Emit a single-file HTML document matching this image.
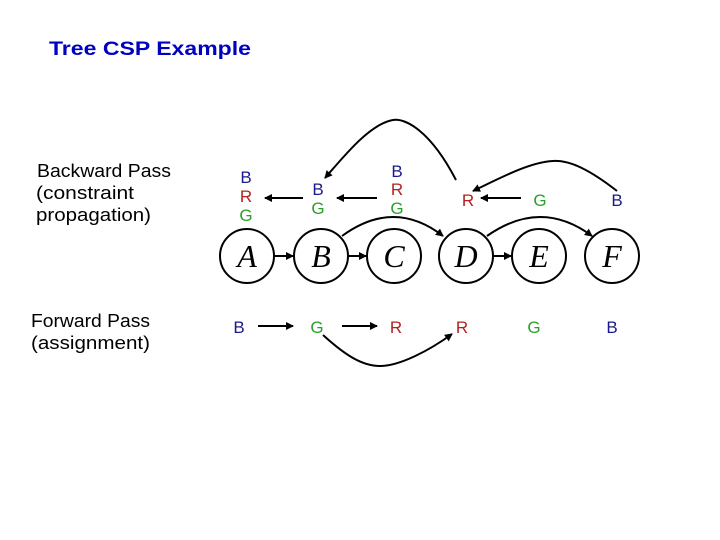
<!DOCTYPE html>
<html><head><meta charset="utf-8"><style>
html,body{margin:0;padding:0;background:#fff;width:720px;height:540px;overflow:hidden}
svg{display:block}
</style></head><body>
<svg width="720" height="540" viewBox="0 0 720 540" xmlns="http://www.w3.org/2000/svg">
<defs><marker id="ah" markerWidth="8" markerHeight="8" refX="7" refY="4" orient="auto" markerUnits="userSpaceOnUse"><path d="M0,0 L8,4 L0,8 z" fill="#000"/></marker></defs>
<text x="49" y="55" font-family="Liberation Sans, sans-serif" font-weight="bold" font-size="19" fill="#0000c0" textLength="202" lengthAdjust="spacingAndGlyphs">Tree CSP Example</text>
<g font-family="Liberation Sans, sans-serif" font-size="18" fill="#000">
<text x="37" y="177" textLength="134" lengthAdjust="spacingAndGlyphs">Backward Pass</text>
<text x="36" y="199" textLength="98" lengthAdjust="spacingAndGlyphs">(constraint</text>
<text x="36" y="221" textLength="115" lengthAdjust="spacingAndGlyphs">propagation)</text>
<text x="31" y="327" textLength="119" lengthAdjust="spacingAndGlyphs">Forward Pass</text>
<text x="31" y="349" textLength="119" lengthAdjust="spacingAndGlyphs">(assignment)</text>
</g>
<g fill="none" stroke="#000" stroke-width="2">
<circle cx="247" cy="256" r="27"/><circle cx="321" cy="256" r="27"/><circle cx="394" cy="256" r="27"/>
<circle cx="466" cy="256" r="27"/><circle cx="539" cy="256" r="27"/><circle cx="612" cy="256" r="27"/>
<line x1="275" y1="256" x2="293" y2="256" marker-end="url(#ah)"/>
<line x1="348" y1="256" x2="366" y2="256" marker-end="url(#ah)"/>
<line x1="493" y1="256" x2="511" y2="256" marker-end="url(#ah)"/>
<path d="M342,236 Q394,198 443,236" marker-end="url(#ah)"/>
<path d="M487,236 Q541,198 592,236" marker-end="url(#ah)"/>
<line x1="303" y1="198" x2="265" y2="198" marker-end="url(#ah)"/>
<line x1="377" y1="198" x2="337" y2="198" marker-end="url(#ah)"/>
<line x1="521" y1="198" x2="481" y2="198" marker-end="url(#ah)"/>
<path d="M456,180 C430,130 405,118 393,120 C370,124 345,155 325,178" marker-end="url(#ah)"/>
<path d="M617,191 C590,170 570,160 553,161 C530,162 500,178 473,191" marker-end="url(#ah)"/>
<line x1="258" y1="326" x2="293" y2="326" marker-end="url(#ah)"/>
<line x1="342" y1="326" x2="377" y2="326" marker-end="url(#ah)"/>
<path d="M323,335 C345,355 362,366 380,366 C400,366 430,350 452,334" marker-end="url(#ah)"/>
</g>
<g font-family="Liberation Serif, serif" font-style="italic" font-size="32" text-anchor="middle" fill="#000">
<text x="247" y="267">A</text><text x="321" y="267">B</text><text x="394" y="267">C</text>
<text x="466" y="267">D</text><text x="539" y="267">E</text><text x="612" y="267">F</text>
</g>
<g font-family="Liberation Sans, sans-serif" font-size="17" text-anchor="middle">
<text x="246" y="183" fill="#1a1a8c">B</text><text x="246" y="202" fill="#b22222">R</text><text x="246" y="221" fill="#2aa02a">G</text>
<text x="318" y="195" fill="#1a1a8c">B</text><text x="318" y="214" fill="#2aa02a">G</text>
<text x="397" y="177" fill="#1a1a8c">B</text><text x="397" y="195" fill="#b22222">R</text><text x="397" y="214" fill="#2aa02a">G</text>
<text x="468" y="206" fill="#b22222">R</text><text x="540" y="206" fill="#2aa02a">G</text><text x="617" y="206" fill="#1a1a8c">B</text>
<text x="239" y="333" fill="#1a1a8c">B</text><text x="317" y="333" fill="#2aa02a">G</text><text x="396" y="333" fill="#b22222">R</text>
<text x="462" y="333" fill="#b22222">R</text><text x="534" y="333" fill="#2aa02a">G</text><text x="612" y="333" fill="#1a1a8c">B</text>
</g>
</svg>
</body></html>
